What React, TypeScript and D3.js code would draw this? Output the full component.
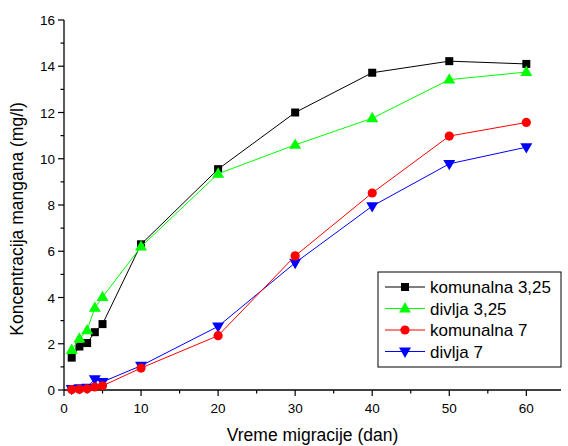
import React from "react";
import * as d3 from "d3";

const days = [1, 2, 3, 4, 5, 10, 20, 30, 40, 50, 60];
const komunalna325 = [1.4, 1.88, 2.03, 2.5, 2.85, 6.3, 9.55, 12.0, 13.72, 14.22, 14.1];
const divlja325 = [1.73, 2.22, 2.58, 3.55, 4.02, 6.2, 9.35, 10.6, 11.75, 13.42, 13.75];
const komunalna7 = [0.02, 0.03, 0.05, 0.13, 0.18, 0.95, 2.35, 5.8, 8.52, 10.98, 11.57];
const divlja7 = [0.05, 0.08, 0.1, 0.47, 0.35, 1.05, 2.75, 5.5, 7.95, 9.78, 10.5];

const xTicks = [0, 10, 20, 30, 40, 50, 60];
const yTicks = [0, 2, 4, 6, 8, 10, 12, 14, 16];

interface Series {
  name: string;
  values: number[];
  color: string;
  marker: "square" | "up" | "circle" | "down";
}

const series: Series[] = [
  { name: "komunalna 3,25", values: komunalna325, color: "#000000", marker: "square" },
  { name: "divlja 3,25", values: divlja325, color: "#00ff00", marker: "up" },
  { name: "komunalna 7", values: komunalna7, color: "#ff0000", marker: "circle" },
  { name: "divlja 7", values: divlja7, color: "#0000ff", marker: "down" },
];

// draw order: blue under red at the bottom
const drawOrder = [0, 1, 3, 2];

const W = 568;
const H = 446;
const margin = { left: 64, right: 7, top: 20, bottom: 56 };

const x = d3.scaleLinear().domain([0, 64.5]).range([margin.left, W - margin.right]);
const y = d3.scaleLinear().domain([0, 16]).range([H - margin.bottom, margin.top]);

const font = "'Liberation Sans', Arial, sans-serif";

function Marker({ type, cx, cy, color }: { type: string; cx: number; cy: number; color: string }) {
  if (type === "square") {
    return <rect x={cx - 4} y={cy - 4} width={8} height={8} fill={color} />;
  }
  if (type === "circle") {
    return <circle cx={cx} cy={cy} r={4.6} fill={color} />;
  }
  const sym = d3.symbol().type(d3.symbolTriangle).size(62)();
  const rot = type === "down" ? 180 : 0;
  return <path d={sym || ""} transform={`translate(${cx},${cy + (type === "down" ? -0.5 : 0.5)}) rotate(${rot})`} fill={color} />;
}

export default function App() {
  const line = d3
    .line<number>()
    .x((_, i) => x(days[i]))
    .y((d) => y(d));

  const minorX = d3.range(5, 65, 10);
  const minorY = d3.range(1, 16, 2);
  const y0 = y(0);

  const legX = 378;
  const legY = 272;
  const legRow = 21.5;

  return (
    <svg
      width={W}
      height={H}
      style={{ position: "absolute", left: 0, top: 0, background: "#fff" }}
      fontFamily={font}
    >
      {/* axes */}
      <line x1={margin.left} x2={margin.left} y1={margin.top} y2={y0} stroke="#000" strokeWidth={1.3} />
      <line x1={margin.left} x2={W - margin.right} y1={y0} y2={y0} stroke="#000" strokeWidth={1.3} />

      {yTicks.map((t) => (
        <g key={"yt" + t}>
          <line x1={margin.left - 6} x2={margin.left} y1={y(t)} y2={y(t)} stroke="#000" strokeWidth={1.2} />
          <text x={margin.left - 9} y={y(t) + 5} fontSize={13.5} textAnchor="end">
            {t}
          </text>
        </g>
      ))}
      {minorY.map((t) => (
        <line key={"ym" + t} x1={margin.left - 3.5} x2={margin.left} y1={y(t)} y2={y(t)} stroke="#000" strokeWidth={1.2} />
      ))}
      {xTicks.map((t) => (
        <g key={"xt" + t}>
          <line x1={x(t)} x2={x(t)} y1={y0} y2={y0 + 6} stroke="#000" strokeWidth={1.2} />
          <text x={x(t)} y={y0 + 23} fontSize={13.5} textAnchor="middle">
            {t}
          </text>
        </g>
      ))}
      {minorX.map((t) => (
        <line key={"xm" + t} x1={x(t)} x2={x(t)} y1={y0} y2={y0 + 3.5} stroke="#000" strokeWidth={1.2} />
      ))}

      <text x={(margin.left + W - margin.right) / 2} y={H - 5} fontSize={17.5} textAnchor="middle">
        Vreme migracije (dan)
      </text>
      <text transform={`translate(23,219) rotate(-90)`} fontSize={17.5} textAnchor="middle">
        Koncentracija mangana (mg/l)
      </text>

      {/* series */}
      {drawOrder.map((si) => {
        const s = series[si];
        return (
          <g key={s.name}>
            <path d={line(s.values) || ""} fill="none" stroke={s.color} strokeWidth={1} />
            {s.values.map((v, i) => (
              <Marker key={i} type={s.marker} cx={x(days[i])} cy={y(v)} color={s.color} />
            ))}
          </g>
        );
      })}

      {/* legend */}
      <rect x={legX} y={legY} width={W - legX - 7} height={95} fill="#fff" stroke="#000" strokeWidth={1} />
      {series.map((s, i) => {
        const cy = legY + 15 + i * legRow;
        return (
          <g key={"leg" + s.name}>
            <line x1={legX + 7} x2={legX + 47} y1={cy} y2={cy} stroke={s.color} strokeWidth={1} />
            <Marker type={s.marker} cx={legX + 27} cy={cy} color={s.color} />
            <text x={legX + 52} y={cy + 6} fontSize={17}>
              {s.name}
            </text>
          </g>
        );
      })}
    </svg>
  );
}
